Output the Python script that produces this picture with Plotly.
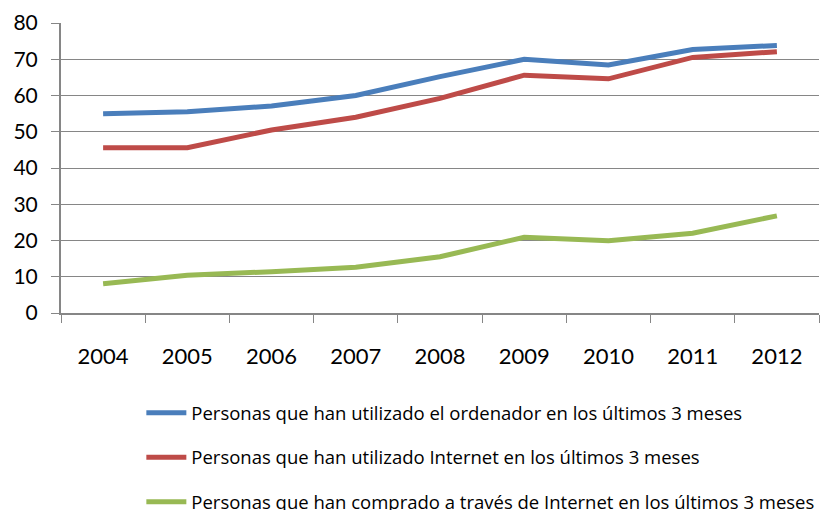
import plotly.graph_objects as go

years = ["2004", "2005", "2006", "2007", "2008", "2009", "2010", "2011", "2012"]
ordenador = [55.0, 55.5, 57.1, 60.0, 65.2, 70.0, 68.4, 72.7, 73.8]
internet = [45.6, 45.6, 50.5, 54.0, 59.2, 65.6, 64.6, 70.5, 72.1]
compra = [8.1, 10.4, 11.4, 12.6, 15.5, 20.9, 19.9, 22.0, 26.8]
names = [
    "Personas que han utilizado el ordenador en los últimos 3 meses",
    "Personas que han utilizado Internet en los últimos 3 meses",
    "Personas que han comprado a través de Internet en los últimos 3 meses",
]
colors = ["#4A7EBB", "#BE4B48", "#98B954"]
y_ticks = [0, 10, 20, 30, 40, 50, 60, 70, 80]

fig = go.Figure()
for i, (vals, name, col) in enumerate(zip([ordenador, internet, compra], names, colors)):
    fig.add_trace(go.Scatter(
        x=years, y=vals, mode="lines", name=name,
        line=dict(color=col, width=5), legendgroup=str(i),
    ))

fig.update_layout(
    width=825, height=510,
    margin=dict(l=61, r=6, t=23, b=197, autoexpand=False),
    paper_bgcolor="white", plot_bgcolor="white",
    font=dict(family="Lato, Liberation Sans, sans-serif", color="#000000"),
    showlegend=True,
    legend=dict(
        orientation="v", x=0.106, xanchor="left", y=-0.28, yanchor="top",
        font=dict(size=18.5, family="Open Sans, Lato, sans-serif"),
        tracegroupgap=17.5, itemwidth=40,
    ),
    xaxis=dict(
        type="category", range=[-0.5, 8.5], tickson="boundaries",
        ticks="outside", ticklen=8, tickcolor="#868686", tickwidth=1,
        showline=True, linecolor="#868686", linewidth=2,
        showgrid=False, tickfont=dict(size=22), ticklabelstandoff=23,
        fixedrange=True, automargin=False,
    ),
    yaxis=dict(
        range=[0, 80], tickvals=y_ticks, ticks="outside", ticklen=8,
        tickcolor="#868686", showline=True, linecolor="#868686", linewidth=2,
        showgrid=True, gridcolor="#868686", gridwidth=1, zeroline=False,
        tickfont=dict(size=21), ticklabelstandoff=9, automargin=False,
    ),
)

fig.write_html(
    "out.html",
    config={"displayModeBar": False},
    post_script="document.body.style.margin='0';",
)
